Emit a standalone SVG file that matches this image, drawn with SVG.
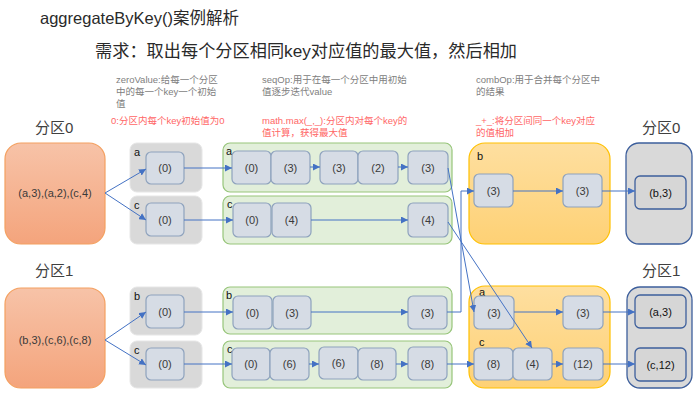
<svg xmlns="http://www.w3.org/2000/svg" width="698" height="404" viewBox="0 0 698 404">
<defs>
<linearGradient id="gOr" x1="0" y1="0" x2="0" y2="1"><stop offset="0" stop-color="#f7c3a8"/><stop offset="1" stop-color="#f4a47c"/></linearGradient>
<linearGradient id="gYe" x1="0" y1="0" x2="0" y2="1"><stop offset="0" stop-color="#fedfa0"/><stop offset="1" stop-color="#fed175"/></linearGradient>
<marker id="ar" viewBox="0 0 10 10" refX="10" refY="5" markerWidth="7" markerHeight="7" orient="auto" markerUnits="userSpaceOnUse"><path d="M0,0 L10,5 L0,10 z" fill="#4472c4"/></marker>
<style>
text{font-family:"Liberation Sans","Noto Sans CJK SC",sans-serif;}
.t{font-size:11px;fill:#3a3a3a;text-anchor:middle;}
.lb{font-size:11px;fill:#111;}
.gr{font-size:9.5px;fill:#808080;}
.rd{font-size:9.5px;fill:#ff6666;}
.hd{font-size:15px;fill:#404040;}
.orp{fill:url(#gOr);stroke:#f4a060;stroke-width:1.2;}
.zb{fill:#d9d9d9;stroke:#e6e6e6;stroke-width:1;}
.gb{fill:#e2efda;stroke:#97c57a;stroke-width:1.2;}
.yb{fill:url(#gYe);stroke:#ffc000;stroke-width:1.2;}
.ob{fill:#d9d9d9;stroke:#3d5f9c;stroke-width:1.3;}
.ib{fill:#d6dce5;stroke:#8ea2bd;stroke-width:1.2;}
.oi{fill:#d6d6d6;stroke:#3d5f9c;stroke-width:1.3;}
.c{fill:none;stroke:#4472c4;stroke-width:1;marker-end:url(#ar);}
</style>
</defs>
<rect width="698" height="404" fill="#fff"/>
<g id="titles">
<text x="40" y="24" style="font-size:16.5px;fill:#2a2a2a">aggregateByKey()案例解析</text>
<text x="95" y="57" style="font-size:17.2px;fill:#2a2a2a">需求：取出每个分区相同key对应值的最大值，然后相加</text>
<text x="116" y="83" class="gr">zeroValue:给每一个分区</text>
<text x="116" y="95" class="gr">中的每一个key一个初始</text>
<text x="116" y="107" class="gr">值</text>
<text x="262" y="83" class="gr">seqOp:用于在每一个分区中用初始</text>
<text x="262" y="95" class="gr">值逐步迭代value</text>
<text x="476" y="83" class="gr">combOp:用于合并每个分区中</text>
<text x="476" y="95" class="gr">的结果</text>
<text x="111" y="124" class="rd">0:分区内每个key初始值为0</text>
<text x="262" y="124" class="rd">math.max(_,_):分区内对每个key的</text>
<text x="262" y="136" class="rd">值计算，获得最大值</text>
<text x="476" y="124" class="rd">_+_:将分区间同一个key对应</text>
<text x="476" y="136" class="rd">的值相加</text>
<text x="35" y="133" class="hd">分区0</text>
<text x="642" y="133" class="hd">分区0</text>
<text x="35" y="276" class="hd">分区1</text>
<text x="642" y="276" class="hd">分区1</text>
</g>
<g id="p0-src"><rect x="5" y="143" width="100" height="101" rx="16" class="orp"/><text x="55" y="197" class="t">(a,3),(a,2),(c,4)</text></g>
<g id="p1-src"><rect x="5" y="288" width="100" height="100" rx="16" class="orp"/><text x="55" y="344" class="t">(b,3),(c,6),(c,8)</text></g>
<g id="z0a"><rect x="130" y="143" width="72" height="49" rx="7" class="zb"/><text x="134" y="156" class="lb">a</text><rect x="146" y="152" width="38" height="32" rx="5" class="ib"/><text x="165" y="172" class="t">(0)</text></g>
<g id="z0c"><rect x="130" y="196" width="72" height="48" rx="7" class="zb"/><text x="134" y="209" class="lb">c</text><rect x="146" y="203" width="38" height="33" rx="5" class="ib"/><text x="165" y="224" class="t">(0)</text></g>
<g id="z1b"><rect x="130" y="287" width="72" height="48" rx="7" class="zb"/><text x="134" y="300" class="lb">b</text><rect x="146" y="295" width="38" height="33" rx="5" class="ib"/><text x="165" y="316" class="t">(0)</text></g>
<g id="z1c"><rect x="130" y="341" width="72" height="47" rx="7" class="zb"/><text x="134" y="354" class="lb">c</text><rect x="146" y="348" width="38" height="32" rx="5" class="ib"/><text x="165" y="368" class="t">(0)</text></g>
<g id="s0a"><rect x="223" y="143" width="229" height="49" rx="7" class="gb"/><text x="226" y="155" class="lb">a</text>
<rect x="232" y="151" width="39" height="33" rx="5" class="ib"/><text x="251.5" y="172" class="t">(0)</text>
<rect x="271" y="151" width="39" height="33" rx="5" class="ib"/><text x="290.5" y="172" class="t">(3)</text>
<rect x="320" y="151" width="38" height="33" rx="5" class="ib"/><text x="339" y="172" class="t">(3)</text>
<rect x="358" y="151" width="40" height="33" rx="5" class="ib"/><text x="378" y="172" class="t">(2)</text>
<rect x="408" y="151" width="40" height="33" rx="5" class="ib"/><text x="428" y="172" class="t">(3)</text></g>
<g id="s0c"><rect x="223" y="196" width="229" height="48" rx="7" class="gb"/><text x="227" y="208" class="lb">c</text>
<rect x="233" y="203" width="38" height="34" rx="5" class="ib"/><text x="252" y="224" class="t">(0)</text>
<rect x="272" y="203" width="39" height="34" rx="5" class="ib"/><text x="291.5" y="224" class="t">(4)</text>
<rect x="408" y="203" width="40" height="34" rx="5" class="ib"/><text x="428" y="224" class="t">(4)</text></g>
<g id="s1b"><rect x="223" y="287" width="229" height="47" rx="7" class="gb"/><text x="226" y="299" class="lb">b</text>
<rect x="233" y="296" width="39" height="33" rx="5" class="ib"/><text x="252.5" y="317" class="t">(0)</text>
<rect x="273" y="296" width="38" height="33" rx="5" class="ib"/><text x="292" y="317" class="t">(3)</text>
<rect x="408" y="296" width="39" height="33" rx="5" class="ib"/><text x="427.5" y="317" class="t">(3)</text></g>
<g id="s1c"><rect x="223" y="341" width="229" height="47" rx="7" class="gb"/><text x="227" y="353" class="lb">c</text>
<rect x="232" y="348" width="38" height="32" rx="5" class="ib"/><text x="251" y="368" class="t">(0)</text>
<rect x="270" y="348" width="39" height="32" rx="5" class="ib"/><text x="289.5" y="368" class="t">(6)</text>
<rect x="319" y="347" width="39" height="32" rx="5" class="ib"/><text x="338.5" y="367" class="t">(6)</text>
<rect x="358" y="348" width="38" height="32" rx="5" class="ib"/><text x="377" y="368" class="t">(8)</text>
<rect x="408" y="347" width="39" height="33" rx="5" class="ib"/><text x="427.5" y="368" class="t">(8)</text></g>
<g id="c0"><rect x="469" y="143" width="141" height="101" rx="16" class="yb"/><text x="477" y="160" class="lb">b</text>
<rect x="474" y="174" width="39" height="33" rx="5" class="ib"/><text x="493.5" y="195" class="t">(3)</text>
<rect x="563" y="174" width="39" height="33" rx="5" class="ib"/><text x="582.5" y="195" class="t">(3)</text></g>
<g id="c1"><rect x="469" y="286" width="141" height="102" rx="16" class="yb"/><text x="479" y="296" class="lb">a</text>
<rect x="474" y="296" width="40" height="33" rx="5" class="ib"/><text x="494" y="317" class="t">(3)</text>
<rect x="563" y="296" width="40" height="33" rx="5" class="ib"/><text x="583" y="317" class="t">(3)</text>
<text x="479" y="346" class="lb">c</text>
<rect x="474" y="348" width="39" height="32" rx="5" class="ib"/><text x="493.5" y="368" class="t">(8)</text>
<rect x="513" y="348" width="39" height="32" rx="5" class="ib"/><text x="532.5" y="368" class="t">(4)</text>
<rect x="563" y="348" width="40" height="32" rx="5" class="ib"/><text x="583" y="368" class="t">(12)</text></g>
<g id="o0"><rect x="626" y="143" width="66" height="101" rx="13" class="ob"/><rect x="635" y="176" width="51" height="33" rx="5" class="oi"/><text x="660.5" y="197" class="t" style="fill:#111">(b,3)</text></g>
<g id="o1"><rect x="627" y="287" width="65" height="101" rx="13" class="ob"/><rect x="635" y="295" width="51" height="33" rx="5" class="oi"/><text x="660.5" y="316" class="t" style="fill:#111">(a,3)</text>
<rect x="635" y="348" width="51" height="33" rx="5" class="oi"/><text x="660.5" y="369" class="t" style="fill:#111">(c,12)</text></g>
<g id="connectors">
<path class="c" d="M105,193 L146,169"/>
<path class="c" d="M105,193 L146,220"/>
<path class="c" d="M105,340 L146,312"/>
<path class="c" d="M105,340 L146,365"/>
<path class="c" d="M184,168 L232,168"/>
<path class="c" d="M184,220 L233,220"/>
<path class="c" d="M184,312 L233,312"/>
<path class="c" d="M184,364 L232,364"/>
<path class="c" d="M310,167 L320,167"/>
<path class="c" d="M398,167 L408,167"/>
<path class="c" d="M311,220 L408,220"/>
<path class="c" d="M311,312 L408,312"/>
<path class="c" d="M309,364 L319,364"/>
<path class="c" d="M396,364 L408,364"/>
<path class="c" d="M448,168 L474,312"/>
<path class="c" d="M448,222 L532,348"/>
<path class="c" d="M447,312 L461,312 L461,191 L474,191"/>
<path class="c" d="M447,364 L474,364"/>
<path class="c" d="M513,191 L563,191"/>
<path class="c" d="M602,191 L635,191"/>
<path class="c" d="M514,312 L563,312"/>
<path class="c" d="M603,312 L635,312"/>
<path class="c" d="M552,364 L563,364"/>
<path class="c" d="M603,364 L635,364"/>
</g>
</svg>
